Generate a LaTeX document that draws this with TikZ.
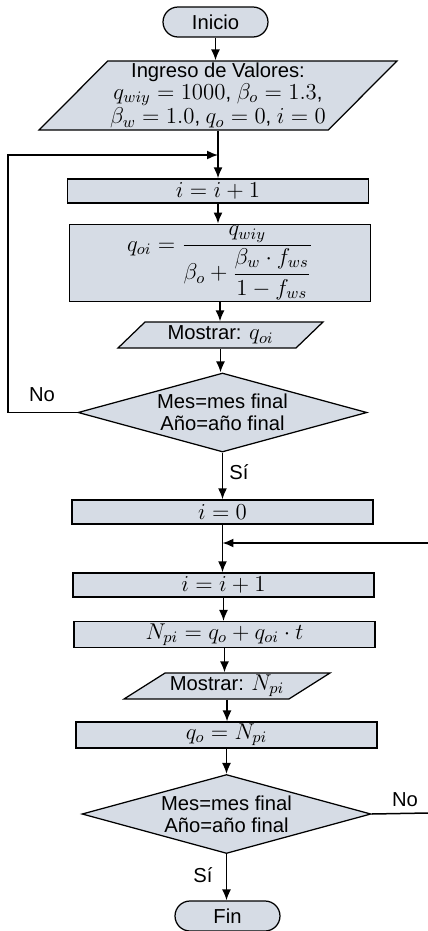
\RequirePackage{fix-cm}
\documentclass[tikz,border=0pt]{standalone}
\usepackage{fontspec}
\setmainfont{Liberation Sans}
\usepackage{amsmath}
\usetikzlibrary{shapes.geometric,arrows.meta}
\definecolor{boxfill}{RGB}{214,220,229}
\newcommand{\mth}[1]{{\fontsize{13}{14}\selectfont$#1$}}

\begin{document}
\begin{tikzpicture}[x=0.02cm,y=-0.02cm,
        font=\fontsize{11.5}{12.5}\selectfont,
        >={Latex[length=2.2mm,width=1.8mm]},
        flow/.style={->,line width=.3mm,black},
        terminal/.style={draw,line width=.25mm,fill=boxfill,rounded corners=0.3cm,minimum width=2.1cm,minimum height=0.6cm},
        process/.style={draw,line width=.3mm,fill=boxfill,minimum width=6.02cm,minimum height=0.48cm,inner sep=1pt,font=\fontsize{13}{14}\selectfont},
        inout/.style={draw,line width=.25mm,fill=boxfill,trapezium,trapezium stretches body,align=center,inner sep=1pt},
        decision/.style={draw,line width=.25mm,fill=boxfill,diamond,aspect=3.6,inner sep=0pt,align=center,minimum width=5.78cm,minimum height=1.58cm}]
        \useasboundingbox (0,0) rectangle (428,931);
        % first loop
        \node[terminal] (inicio) at (215.5,22) {Inicio};
        \node[inout,trapezium left angle=45,trapezium right angle=135,minimum width=7.16cm,minimum height=1.38cm] (ingreso) at (218,95.5)
            {Ingreso de Valores:\\ \mth{q_{wiy}=1000}, \mth{\beta_o=1.3},\\ \mth{\beta_w=1.0}, \mth{q_o=0}, \mth{i=0}};
        \node[process] (r1) at (218,191) {$i=i+1$};
        \node[process,minimum height=1.32cm] (r2) at (220,263)
            {$q_{oi}=\dfrac{q_{wiy}}{\beta_o+\dfrac{\beta_w\cdot f_{ws}}{1-f_{ws}}}$};
        \node[inout,trapezium left angle=39,trapezium right angle=141,minimum width=4.1cm,minimum height=0.52cm] (out1) at (220.5,335) {Mostrar: \mth{q_{oi}}};
        \node[decision] (d1) at (222.5,412.5) {Mes=mes final\\ Año=año final};
        \node (no1) at (42,395) {No};
        \node (si1) at (239,472) {Sí};
        % second loop
        \node[process] (r3) at (222.5,512) {$i=0$};
        \node[process] (r4) at (223.5,585) {$i=i+1$};
        \node[process] (r5) at (224.5,634.5) {$N_{pi}=q_o+q_{oi}\cdot t$};
        \node[inout,trapezium left angle=32,trapezium right angle=148,minimum width=4.12cm,minimum height=0.52cm] (out2) at (227,686) {Mostrar: \mth{N_{pi}}};
        \node[process] (r6) at (226.5,735) {$q_o=N_{pi}$};
        \node[decision] (d2) at (226.5,814) {Mes=mes final\\ Año=año final};
        \node (no2) at (405,800) {No};
        \node (si2) at (203,875) {Sí};
        \node[terminal] (fin) at (227.5,916) {Fin};
        % arrows
        \draw[flow] (inicio.south) -- (inicio.south |- ingreso.north);
        \draw[flow] (ingreso.south) -- (ingreso.south |- r1.north);
        \draw[flow] (r1.south) -- (r1.south |- r2.north);
        \draw[flow] (r2.south) -- (r2.south |- out1.north);
        \draw[flow] (out1.south) -- (out1.south |- d1.north);
        \draw[flow] (d1.south) -- (d1.south |- r3.north);
        \draw[flow] (r3.south) -- (r3.south |- r4.north);
        \draw[flow] (r4.south) -- (r4.south |- r5.north);
        \draw[flow] (r5.south) -- (r5.south |- out2.north);
        \draw[flow] (out2.south) -- (out2.south |- r6.north);
        \draw[flow] (r6.south) -- (r6.south |- d2.north);
        \draw[flow] (d2.south) -- (d2.south |- fin.north);
        % loop backs
        \coordinate (lp1) at (8,155);
        \coordinate (lp2) at (428,543);
        \coordinate (lp3) at (428,813);
        \draw[flow] (d1.west) -| (lp1) -- (lp1 -| r1.north);
        \draw[flow] (lp2) -- (lp2 -| r3.south);
        \draw[line width=.3mm] (d2.east) -- (lp3);
\end{tikzpicture}
\end{document}
